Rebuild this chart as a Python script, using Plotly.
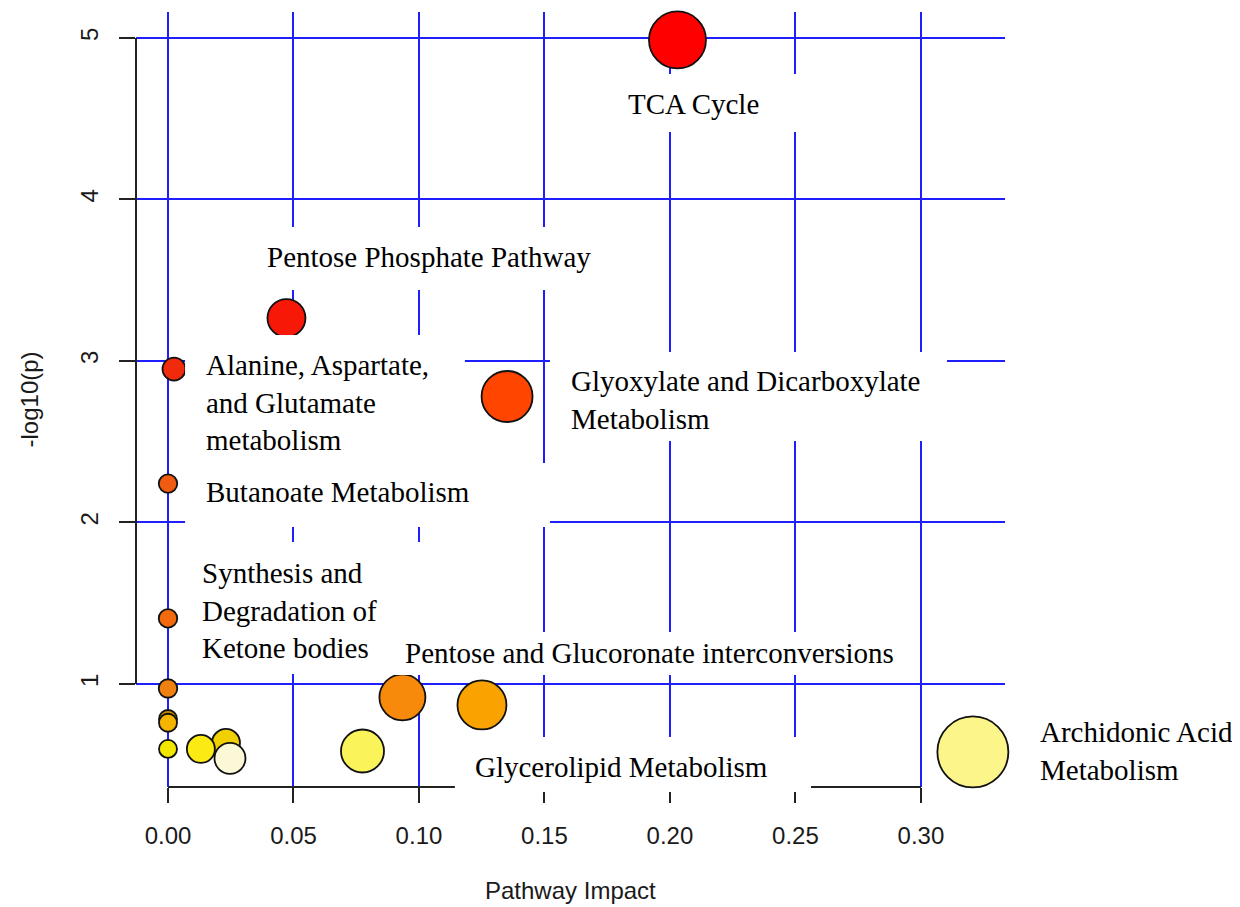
import plotly.graph_objects as go

# ---------------- data ----------------
pathway_impact = [0.2030, 0.0472, 0.0024, 0.1351, 0.0, 0.0, 0.0, 0.0, 0.0, 0.0,
                  0.0231, 0.0131, 0.0247, 0.0775, 0.0934, 0.1251, 0.3207]
neg_log10_p = [4.988, 3.266, 2.950, 2.780, 2.241, 1.406, 0.972, 0.783, 0.760, 0.598,
               0.635, 0.598, 0.539, 0.585, 0.917, 0.870, 0.579]
node_size = [57, 38, 23, 51, 18.5, 18.5, 18.5, 18, 18, 18,
             28, 28, 31, 43, 46, 49, 71]
node_color = ["#ff0000", "#f81808", "#f02a0a", "#ff4500", "#f25c12", "#f26a0d",
              "#f08010", "#c88a00", "#f5b400", "#f2e600", "#f0d000", "#fbea14",
              "#fbf8d8", "#fbf35a", "#f7890b", "#faa300", "#fcf68a"]

x_ticks = [0.0, 0.05, 0.10, 0.15, 0.20, 0.25, 0.30]
x_tick_labels = ["0.00", "0.05", "0.10", "0.15", "0.20", "0.25", "0.30"]
y_ticks = [1, 2, 3, 4, 5]
y_tick_labels = ["1", "2", "3", "4", "5"]

# label text, anchor (data coords), anchor side, white backing box (data coords)
labels = [
    dict(text="TCA Cycle", x=0.2092, y=4.591, xanchor="center",
         box=(0.1721, 0.2558, 4.418, 4.777)),
    dict(text="Pentose Phosphate Pathway", x=0.0386, y=3.644, xanchor="left",
         box=(0.0347, 0.1761, 3.440, 3.830)),
    dict(text="Alanine, Aspartate,<br>and Glutamate<br>metabolism", x=0.0145, y=2.740,
         xanchor="left", box=(0.0068, 0.1183, 2.368, 3.161)),
    dict(text="Glyoxylate and Dicarboxylate<br>Metabolism", x=0.1598, y=2.758,
         xanchor="left", box=(0.1522, 0.3104, 2.505, 3.056)),
    dict(text="Butanoate Metabolism", x=0.0145, y=2.189, xanchor="left",
         box=(0.0068, 0.1522, 1.972, 2.368)),
    dict(text="Synthesis and<br>Degradation of<br>Ketone bodies", x=0.0127, y=1.452,
         xanchor="left", box=(0.0068, 0.1084, 1.062, 1.879)),
    dict(text="Pentose and Glucoronate interconversions", x=0.0938, y=1.192,
         xanchor="left", box=(0.0904, 0.2956, 1.056, 1.322)),
    dict(text="Glycerolipid Metabolism", x=0.1215, y=0.486, xanchor="left",
         box=(0.1143, 0.2562, 0.331, 0.672)),
    dict(text="Archidonic Acid<br>Metabolism", x=0.3466, y=0.585, xanchor="left",
         box=None),
]

X_RANGE = [-0.01275, 0.3335]
Y_RANGE = [0.362, 5.161]

def to_paper_x(v):
    return (v - X_RANGE[0]) / (X_RANGE[1] - X_RANGE[0])

def to_paper_y(v):
    return (v - Y_RANGE[0]) / (Y_RANGE[1] - Y_RANGE[0])

GRID = "#1e1eff"
TICK_FONT = dict(family="Liberation Sans, Arial, sans-serif", size=24, color="#1a1a1a")
TITLE_FONT = dict(family="Liberation Sans, Arial, sans-serif", size=24, color="#1a1a1a")
LABEL_FONT = dict(family="Liberation Serif, Times New Roman, serif", size=29, color="#000000")

fig = go.Figure()
fig.add_trace(go.Scatter(
    x=pathway_impact, y=neg_log10_p, mode="markers",
    marker=dict(size=node_size, color=node_color, opacity=1,
                line=dict(color="#111111", width=1.8)),
    cliponaxis=False, showlegend=False, hoverinfo="x+y",
))

shapes = []
# R-style axis lines spanning only the tick range
shapes.append(dict(type="line", xref="x", yref="paper", x0=x_ticks[0], x1=x_ticks[-1],
                   y0=0, y1=0, line=dict(color="#222222", width=2), layer="above"))
shapes.append(dict(type="line", xref="paper", yref="y", x0=0, x1=0,
                   y0=y_ticks[0], y1=y_ticks[-1], line=dict(color="#222222", width=2),
                   layer="above"))
# white label backings
for lab in labels:
    if lab["box"] is None:
        continue
    bx0, bx1, by0, by1 = lab["box"]
    shapes.append(dict(type="rect", xref="paper", yref="paper",
                       x0=to_paper_x(bx0), x1=to_paper_x(bx1),
                       y0=to_paper_y(by0), y1=to_paper_y(by1),
                       fillcolor="white", line=dict(width=0), layer="above"))

annotations = []
for lab in labels:
    # paper references so that labels outside the axis range are still drawn
    annotations.append(dict(text=lab["text"], x=to_paper_x(lab["x"]), y=to_paper_y(lab["y"]),
                            xref="paper", yref="paper",
                            xanchor=lab["xanchor"], yanchor="middle", align="left",
                            showarrow=False, font=LABEL_FONT))
annotations.append(dict(text="Pathway Impact", xref="paper", yref="paper", x=0.5, y=-0.133,
                        xanchor="center", yanchor="middle", showarrow=False,
                        font=TITLE_FONT))
annotations.append(dict(text="-log10(p)", xref="paper", yref="paper", x=-0.122, y=0.5,
                        xanchor="center", yanchor="middle", showarrow=False, textangle=-90,
                        font=TITLE_FONT))

# the page adds an 8px body margin, so the figure is 8px smaller than the window
fig.update_layout(
    width=1232, height=899,
    margin=dict(l=128, r=235, t=4, b=120, pad=0),
    paper_bgcolor="white", plot_bgcolor="white",
    shapes=shapes, annotations=annotations,
    xaxis=dict(range=X_RANGE, tickvals=x_ticks, ticktext=x_tick_labels,
               showgrid=True, gridcolor=GRID, gridwidth=2, zeroline=False,
               showline=False, ticks="outside", ticklen=15, tickwidth=2,
               tickcolor="#222222", tickfont=TICK_FONT, ticklabelstandoff=12),
    yaxis=dict(range=Y_RANGE, tickvals=y_ticks, ticktext=y_tick_labels,
               showgrid=True, gridcolor=GRID, gridwidth=2, zeroline=False,
               showline=False, ticks="outside", ticklen=16, tickwidth=2,
               tickcolor="#222222", tickfont=TICK_FONT, tickangle=-90,
               ticklabelstandoff=11),
)

fig.write_html("out.html")
